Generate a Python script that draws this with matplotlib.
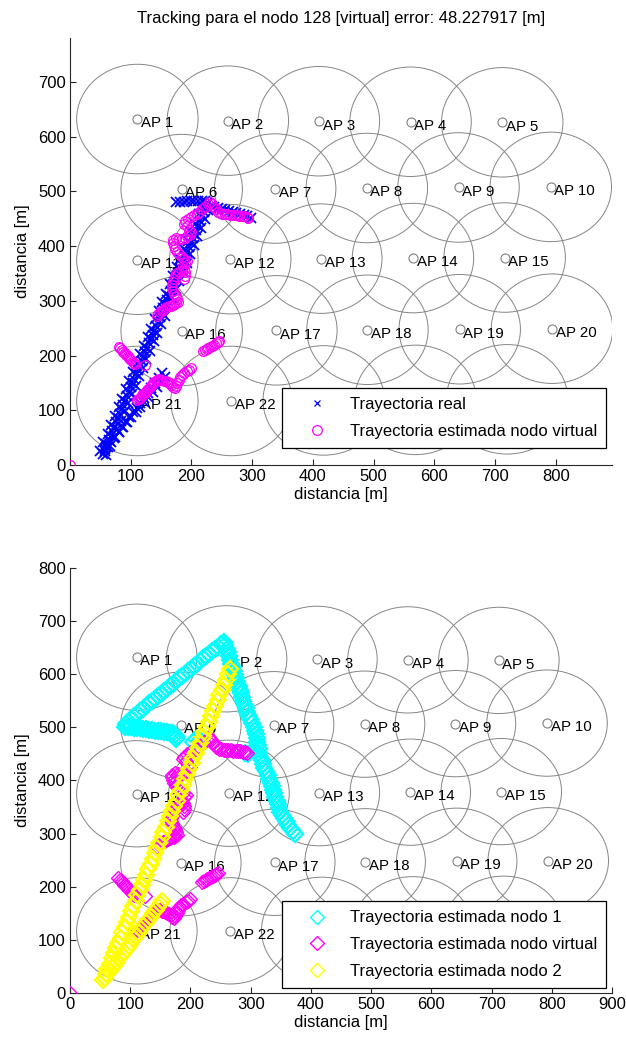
import matplotlib
matplotlib.use('Agg')
import matplotlib.pyplot as plt
from matplotlib.patches import Circle

plt.rcParams['font.family'] = ['Liberation Sans', 'DejaVu Sans']

# posiciones de los puntos de acceso
ap_x = [111, 260, 410, 561, 712, 184, 338, 489, 640, 792, 111, 264, 414, 565, 716,
        184, 340, 490, 642, 794, 111, 266, 418, 569, 720]
ap_y = [632, 629, 628, 627, 626, 504, 505, 506, 507, 508, 375, 376, 377, 378, 379,
        245, 246, 247, 248, 249, 117, 117, 118, 119, 120]
ap_radio = 100

# trayectoria real
real_x = [152, 146, 140, 134, 128, 122, 116, 110, 104, 98, 92, 86, 80, 74, 68, 62, 57,
          157, 150, 143, 136, 129, 122, 115, 108, 101, 94, 87, 80, 73, 66, 60,
          55, 58, 60, 64, 67, 70, 73, 76, 79, 82, 85, 88, 91, 94, 97, 100, 103, 106, 109,
          112, 115, 118, 121, 124, 127, 130, 133, 136, 139, 142, 145, 148, 151, 154, 157,
          160, 163, 166, 169, 172, 175, 178, 181, 184, 187, 190, 193, 196, 199, 202, 205,
          208, 211, 214, 217, 220, 223, 226,
          50, 55, 62, 68, 74, 80, 86, 92, 98, 104, 110, 116, 122, 128, 134, 140, 146, 152,
          158, 164, 170, 176, 182, 188, 194, 200, 206, 212, 218,
          60, 66, 72, 78, 84, 90, 96, 102, 108, 114, 120, 126, 132, 138, 144, 150, 156, 162,
          168, 174, 180, 186, 192, 198, 204, 210, 216, 222, 228,
          175, 181, 187, 193, 199, 205, 211, 217, 223,
          226, 232, 238, 244, 250, 256, 262, 268, 274, 280, 286, 292, 298]
real_y = [168, 159, 150, 141, 132, 123, 114, 105, 96, 87, 78, 69, 60, 51, 42, 33, 25,
          160, 151, 142, 133, 124, 115, 106, 97, 88, 79, 70, 61, 52, 43, 32,
          21, 29, 38, 46, 53, 62, 70, 78, 85, 94, 102, 110, 117, 126, 134, 142, 149, 158, 166,
          174, 181, 190, 198, 206, 213, 222, 230, 238, 245, 254, 262, 270, 277, 286, 294,
          302, 309, 318, 326, 334, 341, 350, 358, 366, 373, 382, 390, 398, 405, 414, 422,
          430, 437, 446, 454, 462, 469, 478,
          25, 42, 57, 74, 89, 106, 121, 138, 153, 170, 185, 202, 217, 234, 249, 266, 281, 298,
          313, 330, 345, 362, 377, 394, 409, 426, 441, 458, 473,
          18, 34, 49, 66, 81, 98, 113, 130, 145, 162, 177, 194, 209, 226, 241, 258, 273, 290,
          305, 322, 337, 354, 369, 386, 401, 418, 433, 450, 465,
          481, 481, 481, 482, 482, 482, 483, 483, 482,
          476, 474, 472, 470, 468, 466, 464, 462, 460, 458, 456, 454, 452]

# trayectoria estimada del nodo virtual
virt_x = [0,
          80, 83, 86, 88, 90, 93, 95, 97, 99, 101, 103, 105, 107, 124,
          111, 113, 115, 117, 119, 121, 123, 125, 127, 129, 131, 133, 135, 137, 139, 141,
          143, 146, 149, 152, 155, 158, 161, 164, 167, 170, 173, 175, 177, 179, 181, 184,
          188, 192, 196, 199,
          219, 222, 225, 228, 231, 234, 237, 240, 243, 245,
          143, 145, 148, 151, 154, 157, 160, 163, 166, 169, 172, 175, 178, 176, 174, 172,
          170, 168, 168, 169, 171, 173, 176, 180, 184, 188, 190, 189, 188, 186, 190, 192,
          188, 184, 180, 176, 173, 171, 170, 170, 174, 179, 184, 189, 193, 197, 200, 196,
          192, 188, 190, 194, 199, 204, 209, 213, 218, 223, 228, 231, 234, 237, 240, 243,
          247, 251, 255, 259, 263, 267, 271, 275, 279, 283, 287, 291, 294]
virt_y = [0,
          216, 213, 210, 207, 204, 201, 199, 196, 194, 191, 189, 187, 184, 182,
          118, 120, 122, 125, 127, 129, 132, 134, 137, 139, 142, 144, 147, 149, 152, 154,
          156, 157, 156, 155, 154, 153, 151, 149, 146, 143, 141, 145, 150, 156, 161, 165,
          168, 171, 174, 177,
          208, 210, 212, 214, 216, 218, 220, 222, 224, 226,
          272, 275, 279, 281, 284, 286, 288, 290, 291, 293, 294, 296, 298, 303, 308, 313,
          318, 323, 329, 334, 340, 345, 350, 352, 355, 358, 352, 346, 340, 364, 369, 372,
          376, 380, 385, 390, 395, 400, 406, 411, 414, 412, 412, 415, 418, 421, 425, 430,
          436, 440, 445, 449, 453, 456, 459, 463, 467, 472, 477, 481, 476, 472, 467, 463,
          460, 459, 458, 458, 457, 457, 456, 456, 455, 455, 454, 453, 452]

# trayectoria estimada del nodo 1
n1_x = [374, 370, 366, 362, 358, 355, 352, 349, 347, 345, 343, 341, 339, 337, 335, 333,
        330, 328, 325, 322, 320, 318, 316, 314, 313, 312, 311, 310, 309, 307, 305, 302,
        299, 297, 294, 292, 290, 288, 286, 284, 282, 280, 278, 276, 274, 272, 270, 268,
        266, 264, 262, 260, 258, 256,
        251, 246, 241, 236, 231, 226, 221, 216, 211, 206, 201, 196, 191, 186, 181, 176,
        171, 166, 161, 156, 151, 146, 141, 136, 131, 126, 121, 116, 111, 106, 101, 96,
        93, 91,
        96, 101, 106, 111, 116, 121, 126, 131, 136, 141, 146, 151, 156, 161, 166, 171,
        175, 178, 176,
        205, 210, 216, 290, 296]
n1_y = [300, 305, 311, 317, 323, 329, 335, 341, 348, 355, 362, 369, 376, 383, 389, 396,
        403, 410, 417, 424, 431, 438, 445, 452, 459, 466, 473, 480, 487, 494, 501, 508,
        515, 522, 529, 536, 543, 550, 557, 564, 571, 578, 585, 592, 599, 606, 613, 620,
        627, 634, 641, 648, 655, 661,
        657, 652, 648, 644, 639, 635, 630, 625, 620, 615, 610, 606, 601, 597, 592, 587,
        582, 578, 573, 568, 563, 559, 554, 549, 545, 540, 535, 530, 526, 521, 516, 511,
        506, 501,
        500, 500, 499, 498, 498, 497, 496, 495, 495, 494, 493, 493, 492, 491, 490, 489,
        486, 482, 478,
        472, 478, 476, 452, 450]

# trayectoria estimada del nodo 2
n2_x = [55, 59, 62, 66, 69, 73, 76, 80, 84, 87, 91, 94, 98, 102, 105, 109, 112, 116, 119,
        123, 127, 130, 134, 137, 141, 145, 148, 152, 155, 159, 162, 166, 170, 173, 177,
        180, 184, 187, 191, 195, 198, 202, 205, 209, 213, 216, 220, 223, 227, 230, 234,
        238, 241, 245, 248, 252, 255, 259, 263, 266,
        58, 62, 66, 70, 74, 78, 82, 86, 90, 94, 98, 102, 106, 110, 114, 118, 122, 126,
        130, 134, 138, 142, 146, 150, 153]
n2_y = [25, 35, 45, 55, 65, 75, 85, 94, 104, 114, 124, 134, 144, 154, 164, 174, 184, 194,
        204, 213, 223, 233, 243, 253, 263, 273, 283, 293, 303, 313, 323, 333, 342, 352,
        362, 372, 382, 392, 402, 412, 422, 432, 442, 452, 461, 471, 481, 491, 501, 511,
        521, 531, 541, 551, 561, 571, 580, 590, 600, 610,
        29, 35, 41, 47, 53, 59, 65, 71, 77, 83, 89, 95, 101, 107, 113, 120, 126, 132,
        138, 144, 150, 156, 162, 168, 174]

titulo = 'Tracking para el nodo 128 [virtual] error: 48.227917 [m]'

fig = plt.figure(figsize=(6.26, 10.41), dpi=100)
ax1 = fig.add_axes([0.1118, 0.5533, 0.866, 0.4102])
ax2 = fig.add_axes([0.1118, 0.0461, 0.866, 0.4083])


def dibujar_aps(ax):
    for i, (x, y) in enumerate(zip(ap_x, ap_y)):
        ax.add_patch(Circle((x, y), ap_radio, fill=False, edgecolor='#858585', linewidth=0.7, zorder=1))
        ax.text(x + 6, y - 8, 'AP %d' % (i + 1), fontsize=10.8, ha='left', va='center', zorder=2)
    ax.plot(ap_x, ap_y, 'o', ls='none', mfc='none', mec='#808080', ms=6.5, mew=0.8, zorder=2)


def ejes(ax, xmax, ymax, yticks, xticks):
    ax.set_xlim(0, xmax)
    ax.set_ylim(0, ymax)
    ax.set_xticks(xticks)
    ax.set_yticks(yticks)
    for s in ['top', 'right']:
        ax.spines[s].set_visible(False)
    for s in ['left', 'bottom']:
        ax.spines[s].set_linewidth(0.8)
        ax.spines[s].set_color('#262626')
    ax.tick_params(direction='in', length=4, width=0.8, labelsize=12, color='#262626', pad=3)
    ax.set_xlabel('distancia [m]', fontsize=12, labelpad=2)
    ax.set_ylabel('distancia [m]', fontsize=12, labelpad=6)


def leyenda(ax, y0):
    leg = ax.legend(loc='lower right', bbox_to_anchor=(0.989, y0), fontsize=12,
                    frameon=True, fancybox=False, framealpha=1, edgecolor='black',
                    borderaxespad=0, borderpad=0.55, handlelength=3.1, handletextpad=0.4,
                    labelspacing=0.7, numpoints=1)
    leg.get_frame().set_linewidth(0.9)
    leg.set_zorder(10)
    return leg


# gráfico superior: real vs nodo virtual
dibujar_aps(ax1)
ax1.plot(real_x, real_y, 'x', ls='none', color='#0000ff', ms=7, mew=1.3, zorder=3,
         label='Trayectoria real')
ax1.plot(virt_x, virt_y, 'o', ls='none', mfc='none', mec='#ff00ff', ms=7, mew=0.9, zorder=4,
         label='Trayectoria estimada nodo virtual')
ejes(ax1, 893, 780, range(0, 800, 100), range(0, 900, 100))
ax1.set_title(titulo, fontsize=12, pad=11)
leg1 = leyenda(ax1, 0.040)
# la cruz de la leyenda va más fina que en la trayectoria
leg1.legend_handles[0].set_markersize(5)
leg1.legend_handles[0].set_markeredgewidth(0.9)

# gráfico inferior: nodos 1, 2 y virtual
dibujar_aps(ax2)
ax2.plot(n1_x, n1_y, 'D', ls='none', mfc='none', mec='#00ffff', ms=8.5, mew=1.6, zorder=3,
         label='Trayectoria estimada nodo 1')
ax2.plot(virt_x, virt_y, 'D', ls='none', mfc='none', mec='#ff00ff', ms=7.5, mew=1.0, zorder=4,
         label='Trayectoria estimada nodo virtual')
ax2.plot(n2_x, n2_y, 'D', ls='none', mfc='none', mec='#ffff00', ms=8.5, mew=1.6, zorder=5,
         label='Trayectoria estimada nodo 2')
ejes(ax2, 900, 800, range(0, 900, 100), range(0, 1000, 100))
leg2 = leyenda(ax2, 0.012)
for h in leg2.legend_handles:
    h.set_markeredgewidth(1.0)
    h.set_markersize(7.5)

fig.savefig('out.png', dpi=100, facecolor='white')
